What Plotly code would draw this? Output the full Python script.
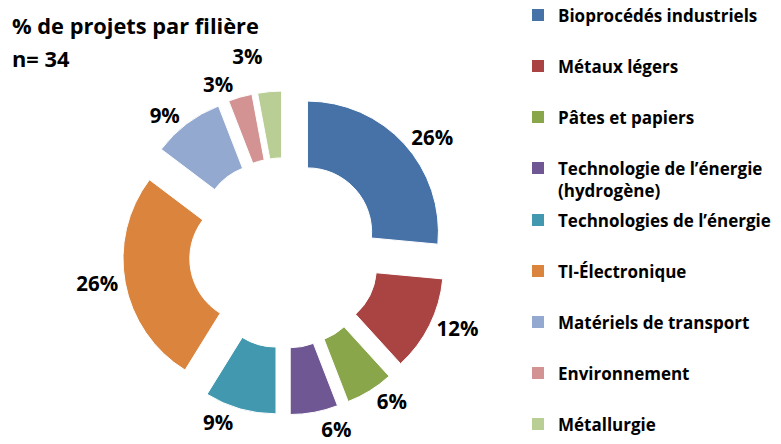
import plotly.graph_objects as go

# Data
categories = [
    "Bioprocédés industriels",
    "Métaux légers",
    "Pâtes et papiers",
    "Technologie de l’énergie<br>(hydrogène)",
    "Technologies de l’énergie",
    "TI-Électronique",
    "Matériels de transport",
    "Environnement",
    "Métallurgie",
]
project_counts = [9, 4, 2, 2, 3, 9, 3, 1, 1]
colors = ["#4672A8", "#A94442", "#8AA64B", "#6E5792", "#4198AF",
          "#DA843D", "#93A9D0", "#D39393", "#B8CE95"]
title_lines = ["% de projets par filière", "n= 34"]

FONT = "Open Sans"
W, H = 781, 444

fig = go.Figure()

fig.add_trace(go.Pie(
    labels=categories,
    values=project_counts,
    sort=False,
    direction="clockwise",
    rotation=0,
    hole=0.49,
    pull=[0.237] * len(project_counts),
    marker=dict(colors=colors, line=dict(color="white", width=1)),
    textposition="outside",
    # text drawn black through the span; transparent base colour hides leader lines
    texttemplate='<span style="color:#000000;fill-opacity:1">%{percent:.0%}</span>',
    textfont=dict(family=FONT, size=20.5, color="rgba(0,0,0,0)", weight="bold"),
    showlegend=False,
    domain=dict(x=[0.15679, 0.57177], y=[0.0652, 0.7952]),
    hoverinfo="label+percent",
))

# Legend entries (split over two legends so spacing matches)
for i, (cat, col) in enumerate(zip(categories, colors)):
    fig.add_trace(go.Scatter(
        x=[None], y=[None], mode="markers",
        name=cat,
        marker=dict(symbol="square", size=12, color=col),
        legend="legend" if i < 4 else "legend2",
        legendgroup=f"g{i}",
        showlegend=True,
    ))

LEG_FS = 17
item_h = 1.3 * LEG_FS + 3
gap = 51 - item_h

legend_common = dict(
    x=518 / W, xanchor="left", yanchor="top",
    font=dict(family=FONT, size=LEG_FS, color="black", weight="bold"),
    tracegroupgap=gap,
    valign="top",
    bgcolor="rgba(0,0,0,0)",
    borderwidth=0,
)

top1 = 15 - 5 - item_h / 2
top2 = 220 - 5 - item_h / 2

fig.update_layout(
    width=W, height=H,
    margin=dict(l=0, r=0, t=0, b=0, autoexpand=False),
    paper_bgcolor="white", plot_bgcolor="white",
    xaxis=dict(visible=False), yaxis=dict(visible=False),
    legend=dict(y=1 - top1 / H, **legend_common),
    legend2=dict(y=1 - top2 / H, **legend_common),
    annotations=[
        dict(text=title_lines[0], x=10 / W, y=1 - 26 / H, xref="paper", yref="paper",
             xanchor="left", yanchor="middle", showarrow=False,
             font=dict(family=FONT, size=21.8, color="black", weight="bold")),
        dict(text=title_lines[1], x=10 / W, y=1 - 58 / H, xref="paper", yref="paper",
             xanchor="left", yanchor="middle", showarrow=False,
             font=dict(family=FONT, size=21.8, color="black", weight="bold")),
    ],
)

fig.write_html("out.html", config={"displayModeBar": False},
               post_script="document.body.style.margin='0';")
